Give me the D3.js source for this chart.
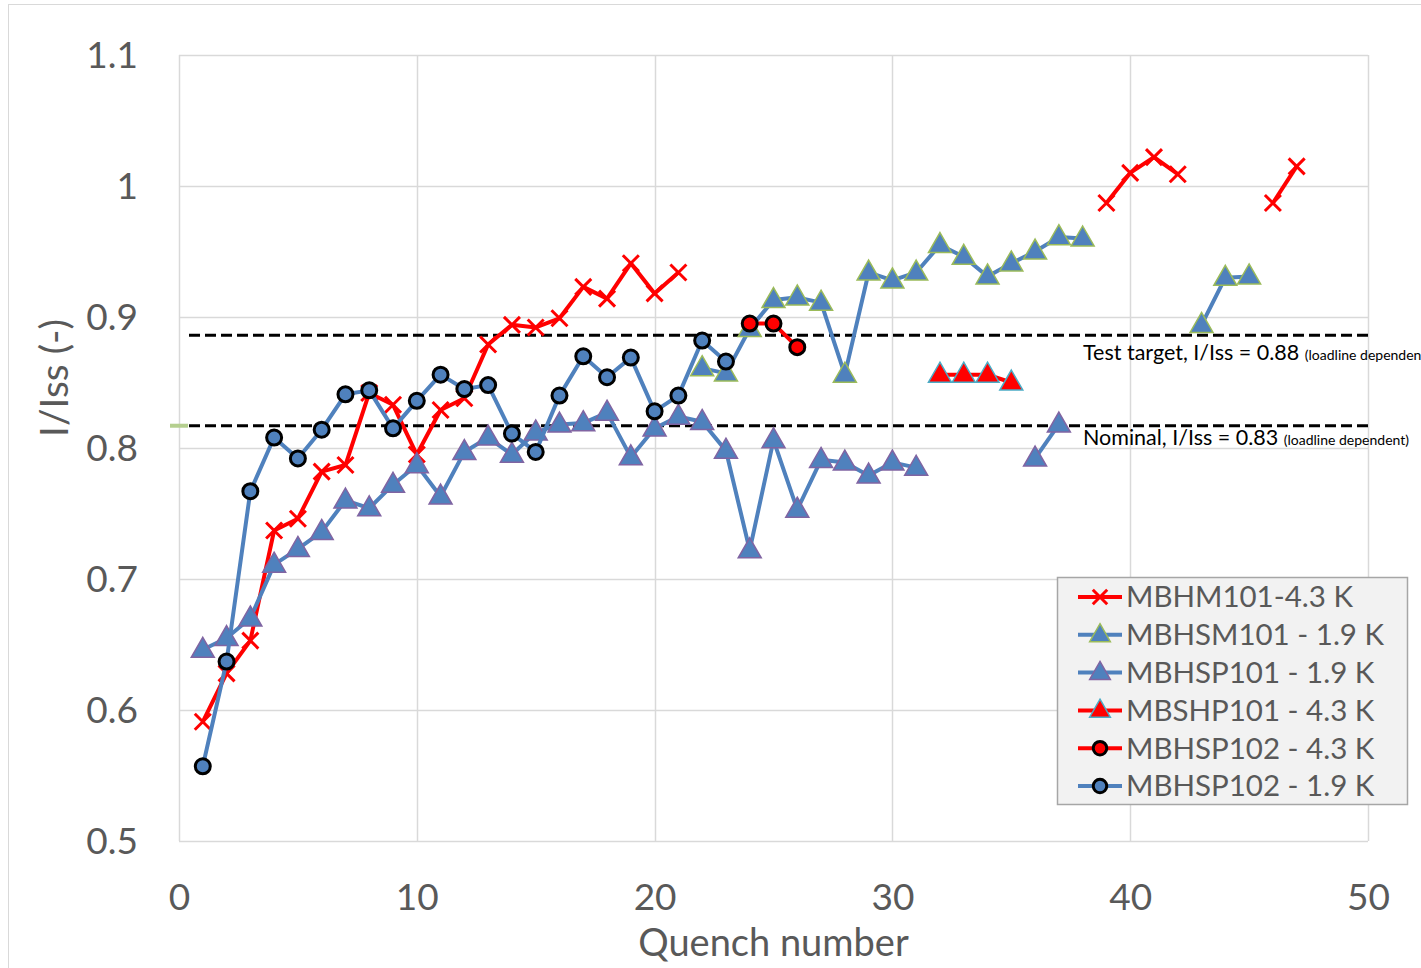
<!DOCTYPE html>
<html><head><meta charset="utf-8">
<script src="https://cdn.jsdelivr.net/npm/d3@7"></script>
<style>body{margin:0;background:#fff}svg{display:block}text{font-family:Lato,"Open Sans",sans-serif}</style>
</head><body>
<svg id="c" width="1421" height="968"></svg>
<script>
const xTicks = [0,10,20,30,40,50];
const yTicks = [0.5,0.6,0.7,0.8,0.9,1.0,1.1];
const yTickLabels = ["0.5","0.6","0.7","0.8","0.9","1","1.1"];

const mbhm101_43_x = [1,2,3,4,5,6,7,8,9,10,11,12,13,14,15,16,17,18,19,20,21];
const mbhm101_43_y = [0.591,0.628,0.653,0.737,0.746,0.782,0.787,0.842,0.833,0.795,0.829,0.838,0.879,0.894,0.892,0.899,0.923,0.914,0.941,0.918,0.934];
const mbhm101_43b_x = [39,40,41,42];
const mbhm101_43b_y = [0.987,1.010,1.022,1.009];
const mbhm101_43c_x = [46,47];
const mbhm101_43c_y = [0.987,1.015];

const mbhsm101_19_x = [22,23,24,25,26,27,28,29,30,31,32,33,34,35,36,37,38];
const mbhsm101_19_y = [0.861,0.857,0.891,0.913,0.915,0.911,0.856,0.934,0.928,0.934,0.955,0.946,0.931,0.941,0.950,0.961,0.960];
const mbhsm101_19b_x = [43,44,45];
const mbhsm101_19b_y = [0.894,0.930,0.931];

const mbhsp101_19_x = [1,2,3,4,5,6,7,8,9,10,11,12,13,14,15,16,17,18,19,20,21,22,23,24,25,26,27,28,29,30,31];
const mbhsp101_19_y = [0.646,0.655,0.670,0.711,0.723,0.736,0.760,0.754,0.772,0.787,0.763,0.797,0.808,0.795,0.812,0.818,0.819,0.827,0.793,0.815,0.824,0.820,0.798,0.722,0.806,0.753,0.791,0.789,0.779,0.789,0.785];
const mbhsp101_19b_x = [36,37];
const mbhsp101_19b_y = [0.792,0.818];

const mbshp101_43_x = [32,33,34,35];
const mbshp101_43_y = [0.856,0.856,0.856,0.850];

const mbhsp102_43_x = [24,25,26];
const mbhsp102_43_y = [0.895,0.895,0.877];

const mbhsp102_19_x = [1,2,3,4,5,6,7,8,9,10,11,12,13,14,15,16,17,18,19,20,21,22,23];
const mbhsp102_19_y = [0.557,0.637,0.767,0.808,0.792,0.814,0.841,0.844,0.815,0.836,0.856,0.845,0.848,0.811,0.797,0.840,0.870,0.854,0.869,0.828,0.840,0.882,0.866];

const targetLevel = 0.886;
const nominalLevel = 0.817;

const legendNames = ["MBHM101-4.3 K","MBHSM101 - 1.9 K","MBHSP101 - 1.9 K","MBSHP101 - 4.3 K","MBHSP102 - 4.3 K","MBHSP102 - 1.9 K"];

const BLUE="#4f81bd", RED="#ff0000";
const styles = [
  {line:RED, marker:"x"},
  {line:BLUE, marker:"tri", fill:BLUE, stroke:"#9bbb59"},
  {line:BLUE, marker:"tri", fill:BLUE, stroke:"#8064a2"},
  {line:RED, marker:"tri", fill:RED, stroke:"#4bacc6"},
  {line:RED, marker:"circle", fill:RED, stroke:"#000"},
  {line:BLUE, marker:"circle", fill:BLUE, stroke:"#000"}
];
const seriesSegs = [
  [[mbhm101_43_x,mbhm101_43_y],[mbhm101_43b_x,mbhm101_43b_y],[mbhm101_43c_x,mbhm101_43c_y]],
  [[mbhsm101_19_x,mbhsm101_19_y],[mbhsm101_19b_x,mbhsm101_19b_y]],
  [[mbhsp101_19_x,mbhsp101_19_y],[mbhsp101_19b_x,mbhsp101_19b_y]],
  [[mbshp101_43_x,mbshp101_43_y]],
  [[mbhsp102_43_x,mbhsp102_43_y]],
  [[mbhsp102_19_x,mbhsp102_19_y]]
];

const svg = d3.select("#c");
const L=179,R=1368,T=55,B=841;
const x = d3.scaleLinear().domain([0,50]).range([L,R]);
const y = d3.scaleLinear().domain([0.5,1.1]).range([B,T]);

// outer chart frame
svg.append("rect").attr("x",8.5).attr("y",4.5).attr("width",1430).attr("height",970).attr("fill","#fff").attr("stroke","#d9d9d9");

// gridlines
const grid = svg.append("g");
grid.selectAll(".gy").data(yTicks).enter().append("line")
  .attr("x1",L).attr("x2",R).attr("y1",d=>Math.round(y(d))+0.5).attr("y2",d=>Math.round(y(d))+0.5)
  .attr("stroke","#d9d9d9").attr("stroke-width",1.5);
grid.selectAll(".gx").data(xTicks).enter().append("line")
  .attr("y1",T).attr("y2",B).attr("x1",d=>Math.round(x(d))+0.5).attr("x2",d=>Math.round(x(d))+0.5)
  .attr("stroke","#d9d9d9").attr("stroke-width",1.5);

// axes labels via d3 axes
const yAxis = d3.axisLeft(y).tickValues(yTicks).tickFormat((d,i)=>yTickLabels[i]).tickSize(0).tickPadding(41);
const ga = svg.append("g").attr("transform",`translate(${L},0)`).call(yAxis);
ga.select(".domain").remove();
ga.selectAll("text").attr("font-size",37).attr("fill","#595959").attr("font-family","Lato, sans-serif").attr("dy","0.35em");
const xAxis = d3.axisBottom(x).tickValues(xTicks).tickSize(0).tickPadding(56);
const gx = svg.append("g").attr("transform",`translate(0,${B})`).call(xAxis);
gx.select(".domain").remove();
gx.selectAll("text").attr("font-size",37).attr("fill","#595959").attr("font-family","Lato, sans-serif").attr("dy","0.35em");

svg.append("text").attr("x",(L+R)/2).attr("y",956).attr("text-anchor","middle")
  .attr("font-size",38).attr("fill","#595959").text("Quench number");
svg.append("text").attr("transform",`translate(68,378) rotate(-90)`).attr("text-anchor","middle")
  .attr("font-size",39).attr("fill","#595959").text("I/Iss (-)");

// reference dashed lines
svg.append("line").attr("x1",170).attr("x2",188).attr("y1",y(nominalLevel)).attr("y2",y(nominalLevel)).attr("stroke","#b5cf8f").attr("stroke-width",4);
[targetLevel,nominalLevel].forEach(v=>{
  svg.append("line").attr("x1",L+10).attr("x2",R+3).attr("y1",y(v)).attr("y2",y(v))
    .attr("stroke","#000").attr("stroke-width",3).attr("stroke-dasharray","11,5");
});
const t1 = svg.append("text").attr("x",1083).attr("y",y(targetLevel)+25).attr("font-size",21.5).attr("fill","#000").attr("font-family","'Open Sans',sans-serif");
t1.append("tspan").text("Test target, I/Iss = 0.88 ");
t1.append("tspan").attr("font-size",14).text("(loadline dependent)");
const t2 = svg.append("text").attr("x",1083).attr("y",y(nominalLevel)+19).attr("font-size",21.5).attr("fill","#000").attr("font-family","'Open Sans',sans-serif");
t2.append("tspan").text("Nominal, I/Iss = 0.83 ");
t2.append("tspan").attr("font-size",14).text("(loadline dependent)");

// markers
function drawMarker(g, st, cx, cy, scale){
  scale = scale||1;
  if(st.marker==="x"){
    const s=8*scale;
    g.append("path").attr("d",`M${cx-s},${cy-s}L${cx+s},${cy+s}M${cx-s},${cy+s}L${cx+s},${cy-s}`)
      .attr("stroke",RED).attr("stroke-width",3).attr("fill","none");
  } else if(st.marker==="tri"){
    const w=11.5*scale, h=20*scale;
    g.append("path").attr("d",`M${cx},${cy-h*0.62}L${cx+w},${cy+h*0.38}L${cx-w},${cy+h*0.38}Z`)
      .attr("fill",st.fill).attr("stroke",st.stroke).attr("stroke-width",1.5);
  } else {
    g.append("circle").attr("cx",cx).attr("cy",cy).attr("r",7.5*scale)
      .attr("fill",st.fill).attr("stroke",st.stroke).attr("stroke-width",3);
  }
}

const line = d3.line().x(d=>x(d[0])).y(d=>y(d[1]));
seriesSegs.forEach((segs,i)=>{
  const st=styles[i];
  const g=svg.append("g");
  segs.forEach(([xs,ys])=>{
    const pts = xs.map((v,j)=>[v,ys[j]]);
    g.append("path").datum(pts).attr("d",line).attr("fill","none").attr("stroke",st.line).attr("stroke-width",4).attr("stroke-linejoin","round");
  });
  segs.forEach(([xs,ys])=>{
    xs.forEach((v,j)=>drawMarker(g,st,x(v),y(ys[j])));
  });
});

// legend
const lg = svg.append("g");
lg.append("rect").attr("x",1057.5).attr("y",577.5).attr("width",350).attr("height",227).attr("fill","#f2f2f2").attr("stroke","#a6a6a6").attr("stroke-width",1.5);
legendNames.forEach((n,i)=>{
  const cy = 597 + i*37.8;
  const st = styles[i];
  lg.append("line").attr("x1",1078).attr("x2",1122).attr("y1",cy).attr("y2",cy).attr("stroke",st.line).attr("stroke-width",4);
  drawMarker(lg,st,1100,cy,0.9);
  lg.append("text").attr("x",1126).attr("y",cy).attr("dy","0.35em").attr("font-size",29.5).attr("fill","#595959").text(n);
});
</script>
</body></html>
